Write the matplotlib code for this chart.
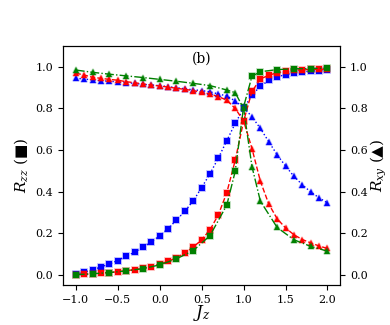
import matplotlib
matplotlib.use("Agg")
import matplotlib.pyplot as plt
from matplotlib.colors import to_rgba

plt.rcParams['font.family'] = ['DejaVu Serif', 'DejaVu Sans']
plt.rcParams['mathtext.fontset'] = 'dejavuserif'

# J_z grid for the blue and red runs (step 0.1)
jz = [-1.0, -0.9, -0.8, -0.7, -0.6, -0.5, -0.4, -0.3, -0.2, -0.1, 0.0,
      0.1, 0.2, 0.3, 0.4, 0.5, 0.6, 0.7, 0.8, 0.9, 1.0,
      1.1, 1.2, 1.3, 1.4, 1.5, 1.6, 1.7, 1.8, 1.9, 2.0]
# coarser grid for the green run
jz_g = [-1.0, -0.8, -0.6, -0.4, -0.2, 0.0, 0.2, 0.4, 0.6, 0.8, 0.9,
        1.0, 1.1, 1.2, 1.4, 1.6, 1.8, 2.0]

# R_zz (squares, left axis)
rzz_blue = [0.002, 0.012, 0.023, 0.037, 0.051, 0.068, 0.088, 0.108, 0.132, 0.158, 0.187,
            0.222, 0.262, 0.306, 0.355, 0.419, 0.486, 0.562, 0.645, 0.728, 0.80,
            0.864, 0.907, 0.935, 0.952, 0.963, 0.971, 0.976, 0.980, 0.982, 0.983]
rzz_red = [0.0, 0.002, 0.004, 0.007, 0.010, 0.014, 0.019, 0.024, 0.030, 0.039, 0.051,
           0.064, 0.081, 0.105, 0.132, 0.168, 0.216, 0.289, 0.395, 0.55, 0.739,
           0.882, 0.942, 0.960, 0.972, 0.979, 0.984, 0.986, 0.988, 0.989, 0.989]
rzz_green = [0.0, 0.004, 0.010, 0.018, 0.029, 0.047, 0.076, 0.116, 0.188, 0.335, 0.497,
             0.808, 0.955, 0.977, 0.987, 0.991, 0.992, 0.994]

# R_xy (triangles, right axis)
rxy_blue = [0.945, 0.942, 0.937, 0.934, 0.931, 0.928, 0.924, 0.921, 0.916, 0.913, 0.910,
            0.905, 0.900, 0.895, 0.890, 0.886, 0.880, 0.870, 0.860, 0.836, 0.805,
            0.760, 0.704, 0.640, 0.577, 0.523, 0.473, 0.433, 0.398, 0.370, 0.345]
rxy_red = [0.970, 0.961, 0.950, 0.945, 0.940, 0.936, 0.929, 0.924, 0.918, 0.913, 0.908,
           0.903, 0.897, 0.892, 0.886, 0.878, 0.870, 0.857, 0.840, 0.800, 0.740,
           0.607, 0.450, 0.340, 0.269, 0.225, 0.192, 0.169, 0.153, 0.138, 0.126]
rxy_green = [0.985, 0.974, 0.965, 0.957, 0.949, 0.940, 0.931, 0.921, 0.910, 0.889, 0.876,
             0.800, 0.520, 0.354, 0.227, 0.168, 0.136, 0.113]

fig = plt.figure(figsize=(3.9, 3.25), dpi=100)
ax = fig.add_axes([0.162, 0.123, 0.71, 0.735])
ax2 = ax.twinx()

styles = [('b', ':'), ('r', '--'), ('g', '-.')]
zz = [(jz, rzz_blue), (jz, rzz_red), (jz_g, rzz_green)]
xy = [(jz, rxy_blue), (jz, rxy_red), (jz_g, rxy_green)]

for (c, ls), (x, y) in zip(styles, zz):
    ax.plot(x, y, color=c, ls=ls, lw=1.0, marker='s', ms=4.2,
            mec=to_rgba(c, 0.3), mew=1.2)
for (c, ls), (x, y) in zip(styles, xy):
    ax2.plot(x, y, color=c, ls=ls, lw=1.0, marker='^', ms=4.5,
             mec=to_rgba(c, 0.3), mew=1.2)

for a in (ax, ax2):
    a.set_ylim(-0.05, 1.1)
    a.set_yticks([0.0, 0.2, 0.4, 0.6, 0.8, 1.0])
    a.tick_params(labelsize=8)
ax.set_xlim(-1.15, 2.15)
ax.set_xticks([-1.0, -0.5, 0.0, 0.5, 1.0, 1.5, 2.0])

ax.set_xlabel('$J_z$', fontsize=12, labelpad=-1)
ax.set_ylabel('$R_{zz}$ (■)', fontsize=11)
ax2.set_ylabel('$R_{xy}$ (▲)', fontsize=11, labelpad=1)
ax.text(0.5, 0.975, '(b)', transform=ax.transAxes, ha='center', va='top', fontsize=10)

fig.savefig('out.png', dpi=100)
